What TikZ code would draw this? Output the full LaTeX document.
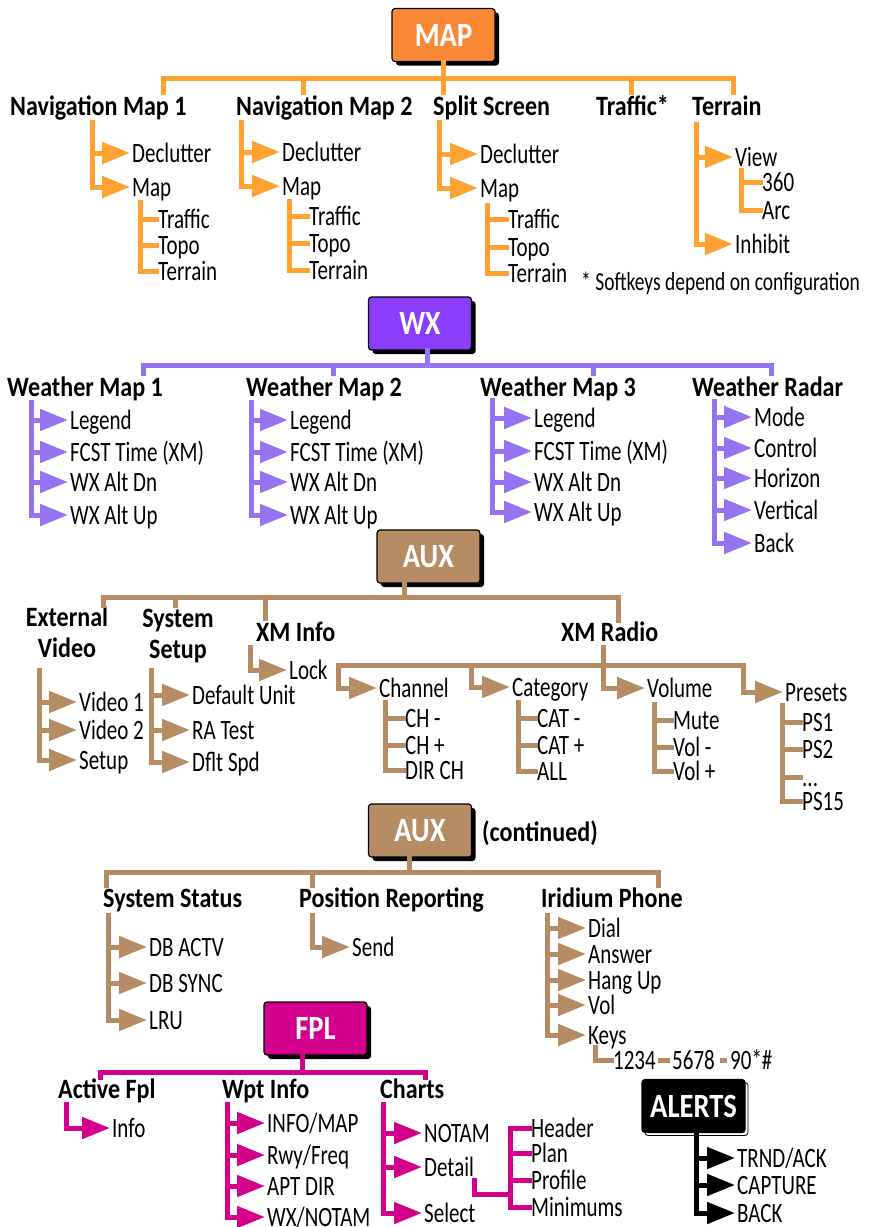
\documentclass[tikz,border=0pt]{standalone}
\usepackage{fontspec}
\setmainfont{Carlito}[FakeStretch=0.75]
\newfontfamily\headfont{Carlito}[FakeStretch=0.86]
\newfontfamily\boxfont{Carlito}[FakeStretch=0.84]
\usetikzlibrary{arrows.meta, shadows}

\definecolor{mapbg}{RGB}{250,137,55}
\definecolor{mapfg}{RGB}{255,162,50}
\definecolor{wxbg}{RGB}{140,62,255}
\definecolor{wxfg}{RGB}{150,115,240}
\definecolor{auxbg}{RGB}{181,140,99}
\definecolor{auxfg}{RGB}{181,140,99}
\definecolor{fplbg}{RGB}{212,0,140}
\definecolor{fplfg}{RGB}{212,0,140}

\begin{document}
\begin{tikzpicture}[x=1pt, y=-1pt, >={Triangle[length=28pt, width=21pt]},
    keybox/.style={draw=black, line width=1.2pt, rounded corners=3pt, minimum width=103pt,
      minimum height=53pt, inner sep=0pt, text=white,
      font=\boxfont\bfseries\fontsize{34}{36}\selectfont},
    menu/.style={keybox, drop shadow={shadow xshift=4pt, shadow yshift=-4pt, fill=black, opacity=1}},
    alertbox/.style={keybox, fill=black, drop shadow={shadow xshift=3pt, shadow yshift=-3pt,
      fill=white, draw=black, line width=0.8pt, opacity=1}},
    head/.style={anchor=west, inner xsep=2pt, inner ysep=0pt, text height=18pt, text depth=0pt,
      font=\headfont\bfseries\fontsize{28}{31}\selectfont},
    twoline/.style={align=center, inner sep=0pt, font=\headfont\bfseries\fontsize{28}{31}\selectfont},
    item/.style={anchor=west, inner xsep=2pt, inner ysep=0pt, text height=18pt, text depth=0pt,
      font=\fontsize{28}{31}\selectfont},
    branch/.style={line width=5pt, line cap=rect, line join=miter},
    mapl/.style={branch, draw=mapfg},
    wxl/.style={branch, draw=wxfg},
    auxl/.style={branch, draw=auxfg},
    fpll/.style={branch, draw=fplfg},
    alrl/.style={branch, draw=black}]
    \useasboundingbox (0,0) rectangle (870,1227);

    % MAP
    \node[menu, fill=mapbg] (map) at (443.5,35) {MAP};
    \node[head] (nav1) at (8,106) {Navigation Map 1};
    \node[head] (nav2) at (234,106) {Navigation Map 2};
    \node[head] (split) at (431,106) {Split Screen};
    \node[head] (traf) at (594,106) {Traffic*};
    \node[head] (terr) at (690,106) {Terrain};
    \coordinate (mapd1) at (163,92);
    \coordinate (mapd2) at (303,92);
    \coordinate (mapd4) at (631,92);
    \coordinate (mapd5) at (733,92);
    \draw[mapl] (mapd1) -- ++(0,-14) -| (mapd5);
    \draw[mapl] (mapd2) -- ++(0,-14);
    \draw[mapl] (mapd4) -- ++(0,-14);
    \draw[mapl] (map.south) -- (map.south |- mapd1);

    \node[item] (nav1dcl) at (130,153) {Declutter};
    \node[item] (nav1map) at (130,187) {Map};
    \node[item] (nav1trf) at (156,219) {Traffic};
    \node[item] (nav1top) at (156,245) {Topo};
    \node[item] (nav1ter) at (156,271) {Terrain};
    \coordinate (nav1s) at (92,122);
    \coordinate (nav1ms) at (140,202);
    \draw[mapl, ->] (nav1s) |- (nav1dcl.west);
    \draw[mapl, ->] (nav1s) |- (nav1map.west);
    \draw[mapl] (nav1ms) |- (nav1trf.west);
    \draw[mapl] (nav1ms) |- (nav1top.west);
    \draw[mapl] (nav1ms) |- (nav1ter.west);

    \node[item] (nav2dcl) at (280,152) {Declutter};
    \node[item] (nav2map) at (280,186) {Map};
    \node[item] (nav2trf) at (307,216) {Traffic};
    \node[item] (nav2top) at (307,243) {Topo};
    \node[item] (nav2ter) at (307,270) {Terrain};
    \coordinate (nav2s) at (241,122);
    \coordinate (nav2ms) at (289,201);
    \draw[mapl, ->] (nav2s) |- (nav2dcl.west);
    \draw[mapl, ->] (nav2s) |- (nav2map.west);
    \draw[mapl] (nav2ms) |- (nav2trf.west);
    \draw[mapl] (nav2ms) |- (nav2top.west);
    \draw[mapl] (nav2ms) |- (nav2ter.west);

    \node[item] (splitdcl) at (478,154) {Declutter};
    \node[item] (splitmap) at (478,188) {Map};
    \node[item] (splittrf) at (506,219) {Traffic};
    \node[item] (splittop) at (506,247) {Topo};
    \node[item] (splitter) at (506,273) {Terrain};
    \coordinate (splits) at (439,122);
    \coordinate (splitms) at (487,205);
    \draw[mapl, ->] (splits) |- (splitdcl.west);
    \draw[mapl, ->] (splits) |- (splitmap.west);
    \draw[mapl] (splitms) |- (splittrf.west);
    \draw[mapl] (splitms) |- (splittop.west);
    \draw[mapl] (splitms) |- (splitter.west);

    \node[item] (terrview) at (733,157) {View};
    \node[item] (terrinh) at (733,244) {Inhibit};
    \node[item] (terr360) at (760,182) {360};
    \node[item] (terrarc) at (760,210) {Arc};
    \coordinate (terrs) at (696,124);
    \coordinate (terrvs) at (741,170);
    \draw[mapl, ->] (terrs) |- (terrview.west);
    \draw[mapl, ->] (terrs) |- (terrinh.west);
    \draw[mapl] (terrvs) |- (terr360.west);
    \draw[mapl] (terrvs) |- (terrarc.west);

    \node[item, font=\fontsize{26}{28}\selectfont] (note) at (579,281) {* Softkeys depend on configuration};

    % WX
    \node[menu, fill=wxbg] (wx) at (420,323.5) {WX};
    \node[head] (wxm1) at (5,387) {Weather Map 1};
    \node[head] (wxm2) at (244,387) {Weather Map 2};
    \node[head] (wxm3) at (478,387) {Weather Map 3};
    \node[head] (wxrad) at (690,387) {Weather Radar};
    \coordinate (wxd1) at (143,373);
    \coordinate (wxd2) at (333,373);
    \coordinate (wxd3) at (427,365);
    \coordinate (wxd4) at (593,373);
    \coordinate (wxd5) at (771,373);
    \draw[wxl] (wxd1) -- ++(0,-8) -| (wxd5);
    \draw[wxl] (wxd2) -- ++(0,-8);
    \draw[wxl] (wxd4) -- ++(0,-8);
    \draw[wxl] (wx.south -| wxd3) -- (wxd3);

    \node[item] (wxm1a) at (68,420) {Legend};
    \node[item] (wxm1b) at (68,452) {FCST Time (XM)};
    \node[item] (wxm1c) at (68,482) {WX Alt Dn};
    \node[item] (wxm1d) at (68,515) {WX Alt Up};
    \coordinate (wxm1s) at (31,402);
    \draw[wxl, ->] (wxm1s) |- (wxm1a.west);
    \draw[wxl, ->] (wxm1s) |- (wxm1b.west);
    \draw[wxl, ->] (wxm1s) |- (wxm1c.west);
    \draw[wxl, ->] (wxm1s) |- (wxm1d.west);

    \node[item] (wxm2a) at (288,420) {Legend};
    \node[item] (wxm2b) at (288,452) {FCST Time (XM)};
    \node[item] (wxm2c) at (288,482) {WX Alt Dn};
    \node[item] (wxm2d) at (288,515) {WX Alt Up};
    \coordinate (wxm2s) at (251,402);
    \draw[wxl, ->] (wxm2s) |- (wxm2a.west);
    \draw[wxl, ->] (wxm2s) |- (wxm2b.west);
    \draw[wxl, ->] (wxm2s) |- (wxm2c.west);
    \draw[wxl, ->] (wxm2s) |- (wxm2d.west);

    \node[item] (wxm3a) at (532,418) {Legend};
    \node[item] (wxm3b) at (532,451) {FCST Time (XM)};
    \node[item] (wxm3c) at (532,482) {WX Alt Dn};
    \node[item] (wxm3d) at (532,512) {WX Alt Up};
    \coordinate (wxm3s) at (492,400);
    \draw[wxl, ->] (wxm3s) |- (wxm3a.west);
    \draw[wxl, ->] (wxm3s) |- (wxm3b.west);
    \draw[wxl, ->] (wxm3s) |- (wxm3c.west);
    \draw[wxl, ->] (wxm3s) |- (wxm3d.west);

    \node[item] (radmode) at (752,417) {Mode};
    \node[item] (radctl) at (752,448) {Control};
    \node[item] (radhor) at (752,478) {Horizon};
    \node[item] (radver) at (752,510) {Vertical};
    \node[item] (radback) at (752,543) {Back};
    \coordinate (wxrads) at (714,401);
    \draw[wxl, ->] (wxrads) |- (radmode.west);
    \draw[wxl, ->] (wxrads) |- (radctl.west);
    \draw[wxl, ->] (wxrads) |- (radhor.west);
    \draw[wxl, ->] (wxrads) |- (radver.west);
    \draw[wxl, ->] (wxrads) |- (radback.west);

    % AUX
    \node[menu, fill=auxbg] (aux) at (428.5,556.5) {AUX};
    \node[twoline] (extv) at (67,632) {External\\Video};
    \node[twoline] (syss) at (178,636) {System\\Setup};
    \node[head] (xmi) at (254,632) {XM Info};
    \node[head] (xmr) at (559,632) {XM Radio};
    \coordinate (auxd1) at (103,605);
    \coordinate (auxd2) at (175,605);
    \coordinate (auxd3) at (265,618);
    \coordinate (auxd4) at (404,597);
    \coordinate (auxd5) at (618,620);
    \draw[auxl] (auxd1) -- ++(0,-8) -| (auxd5);
    \draw[auxl] (auxd2) -- ++(0,-8);
    \draw[auxl] (auxd3) -- ++(0,-21);
    \draw[auxl] (aux.south -| auxd4) -- (auxd4);

    \node[item] (vid1) at (77,702) {Video 1};
    \node[item] (vid2) at (77,730) {Video 2};
    \node[item] (vset) at (77,760) {Setup};
    \coordinate (extvs) at (39,670);
    \draw[auxl, ->] (extvs) |- (vid1.west);
    \draw[auxl, ->] (extvs) |- (vid2.west);
    \draw[auxl, ->] (extvs) |- (vset.west);

    \node[item] (defu) at (190,695) {Default Unit};
    \node[item] (ratst) at (190,730) {RA Test};
    \node[item] (dflt) at (190,762) {Dflt Spd};
    \coordinate (syss0) at (151,670);
    \draw[auxl, ->] (syss0) |- (defu.west);
    \draw[auxl, ->] (syss0) |- (ratst.west);
    \draw[auxl, ->] (syss0) |- (dflt.west);

    \node[item] (lock) at (287,670) {Lock};
    \coordinate (xmis) at (250,647);
    \draw[auxl, ->] (xmis) |- (lock.west);

    \node[item] (chan) at (377,688) {Channel};
    \node[item] (catg) at (510,687) {Category};
    \node[item] (vlm) at (645,688) {Volume};
    \node[item] (pres) at (783,692) {Presets};
    \coordinate (xmrs) at (603,647);
    \coordinate (xmb1) at (338,665);
    \coordinate (xmb2) at (471,665);
    \coordinate (xmb3) at (603,665);
    \coordinate (xmb4) at (743,665);
    \draw[auxl] (xmrs) -- (xmb3);
    \draw[auxl] (xmb1) -- (xmb4);
    \draw[auxl, ->] (xmb1) |- (chan.west);
    \draw[auxl, ->] (xmb2) |- (catg.west);
    \draw[auxl, ->] (xmb3) |- (vlm.west);
    \draw[auxl, ->] (xmb4) |- (pres.west);

    \node[item] (chm) at (403,718) {CH -};
    \node[item] (chp) at (403,745) {CH +};
    \node[item] (dirch) at (403,770) {DIR CH};
    \coordinate (chans) at (385,702);
    \draw[auxl] (chans) |- (chm.west);
    \draw[auxl] (chans) |- (chp.west);
    \draw[auxl] (chans) |- (dirch.west);

    \node[item] (catm) at (535,718) {CAT -};
    \node[item] (catp) at (535,745) {CAT +};
    \node[item] (catall) at (535,771) {ALL};
    \coordinate (catgs) at (518,702);
    \draw[auxl] (catgs) |- (catm.west);
    \draw[auxl] (catgs) |- (catp.west);
    \draw[auxl] (catgs) |- (catall.west);

    \node[item] (vmute) at (671,720) {Mute};
    \node[item] (vminus) at (671,747) {Vol -};
    \node[item] (vplus) at (671,771) {Vol +};
    \coordinate (vlms) at (654,704);
    \draw[auxl] (vlms) |- (vmute.west);
    \draw[auxl] (vlms) |- (vminus.west);
    \draw[auxl] (vlms) |- (vplus.west);

    \node[item] (ps1) at (800,722) {PS1};
    \node[item] (ps2) at (800,749) {PS2};
    \node[item] (psdots) at (800,777) {...};
    \node[item] (ps15) at (800,801) {PS15};
    \coordinate (press) at (782,705);
    \draw[auxl] (press) |- (ps1.west);
    \draw[auxl] (press) |- (ps2.west);
    \draw[auxl] (press) |- (psdots.west);
    \draw[auxl] (press) |- (ps15.west);

    % AUX (continued)
    \node[menu, fill=auxbg] (auxc) at (420,830.5) {AUX};
    \node[head] (cont) at (480,832) {(continued)};
    \node[head] (sstat) at (101,898) {System Status};
    \node[head] (posr) at (297,898) {Position Reporting};
    \node[head] (irid) at (539,898) {Iridium Phone};
    \coordinate (acd1) at (106,885);
    \coordinate (acd2) at (312,885);
    \coordinate (acd3) at (409,872);
    \coordinate (acd4) at (658,885);
    \draw[auxl] (acd1) -- ++(0,-13) -| (acd4);
    \draw[auxl] (acd2) -- ++(0,-13);
    \draw[auxl] (auxc.south -| acd3) -- (acd3);

    \node[item] (dbact) at (147,947) {DB ACTV};
    \node[item] (dbsyn) at (147,983) {DB SYNC};
    \node[item] (lru) at (147,1020) {LRU};
    \coordinate (sstats) at (108,915);
    \draw[auxl, ->] (sstats) |- (dbact.west);
    \draw[auxl, ->] (sstats) |- (dbsyn.west);
    \draw[auxl, ->] (sstats) |- (lru.west);

    \node[item] (send) at (350,947) {Send};
    \coordinate (posrs) at (312,915);
    \draw[auxl, ->] (posrs) |- (send.west);

    \node[item] (dial) at (586,928) {Dial};
    \node[item] (answ) at (586,954) {Answer};
    \node[item] (hang) at (586,980) {Hang Up};
    \node[item] (ivol) at (586,1005) {Vol};
    \node[item] (keys) at (586,1035) {Keys};
    \coordinate (irids) at (547,915);
    \draw[auxl, ->] (irids) |- (dial.west);
    \draw[auxl, ->] (irids) |- (answ.west);
    \draw[auxl, ->] (irids) |- (hang.west);
    \draw[auxl, ->] (irids) |- (ivol.west);
    \draw[auxl, ->] (irids) |- (keys.west);

    \node[item] (k1234) at (611,1060) {1234};
    \node[item] (k5678) at (670,1060) {5678};
    \node[item] (k90) at (728,1060) {90*\#};
    \coordinate (keyss) at (595,1047);
    \draw[auxl] (keyss) |- (k1234.west);
    \draw[auxl, line cap=butt] (k1234.east) -- (k5678.west);
    \draw[auxl, line cap=butt, shorten <=3pt, shorten >=1pt] (k5678.east) -- (k90.west);

    % FPL
    \node[menu, fill=fplbg] (fpl) at (315.5,1028.5) {FPL};
    \node[head] (afpl) at (56,1089) {Active Fpl};
    \node[head] (wpti) at (220,1089) {Wpt Info};
    \node[head] (chrt) at (378,1089) {Charts};
    \coordinate (fpd1) at (100,1077);
    \coordinate (fpd2) at (302,1072);
    \coordinate (fpd3) at (425,1077);
    \draw[fpll] (fpd1) -- ++(0,-5) -| (fpd3);
    \draw[fpll] (fpl.south -| fpd2) -- (fpd2);

    \node[item] (info) at (110,1128) {Info};
    \coordinate (afpls) at (66,1104);
    \draw[fpll, ->] (afpls) |- (info.west);

    \node[item] (infmap) at (265,1123) {INFO/MAP};
    \node[item] (rwy) at (265,1155) {Rwy/Freq};
    \node[item] (aptdir) at (265,1186) {APT DIR};
    \node[item] (wxnot) at (265,1217) {WX/NOTAM};
    \coordinate (wptis) at (227,1104);
    \draw[fpll, ->] (wptis) |- (infmap.west);
    \draw[fpll, ->] (wptis) |- (rwy.west);
    \draw[fpll, ->] (wptis) |- (aptdir.west);
    \draw[fpll, ->] (wptis) |- (wxnot.west);

    \node[item] (notam) at (422,1133) {NOTAM};
    \node[item] (dtl) at (422,1167) {Detail};
    \node[item] (sel) at (422,1213) {Select};
    \coordinate (chrts) at (383,1104);
    \draw[fpll, ->] (chrts) |- (notam.west);
    \draw[fpll, ->] (chrts) |- (dtl.west);
    \draw[fpll, ->] (chrts) |- (sel.west);

    \node[item] (hdr) at (529,1128) {Header};
    \node[item] (plan) at (529,1153) {Plan};
    \node[item] (prof) at (529,1180) {Profile};
    \node[item] (mins) at (529,1207) {Minimums};
    \coordinate (dtlj) at (510,1194);
    \coordinate (dtls) at (510,1128);
    \draw[fpll] ([xshift=-2pt, yshift=-4pt]dtl.south east) |- (dtlj);
    \draw[fpll] (dtls) |- (hdr.west);
    \draw[fpll] (dtls) |- (plan.west);
    \draw[fpll] (dtls) |- (prof.west);
    \draw[fpll] (dtls) |- (mins.west);

    % ALERTS
    \node[alertbox] (alrt) at (693.5,1106) {ALERTS};
    \node[item] (trnd) at (735,1158) {TRND/ACK};
    \node[item] (capt) at (735,1185) {CAPTURE};
    \node[item] (back) at (735,1213) {BACK};
    \draw[alrl, ->] ([xshift=2.5pt]alrt.south) |- (trnd.west);
    \draw[alrl, ->] ([xshift=2.5pt]alrt.south) |- (capt.west);
    \draw[alrl, ->] ([xshift=2.5pt]alrt.south) |- (back.west);
\end{tikzpicture}
\end{document}
